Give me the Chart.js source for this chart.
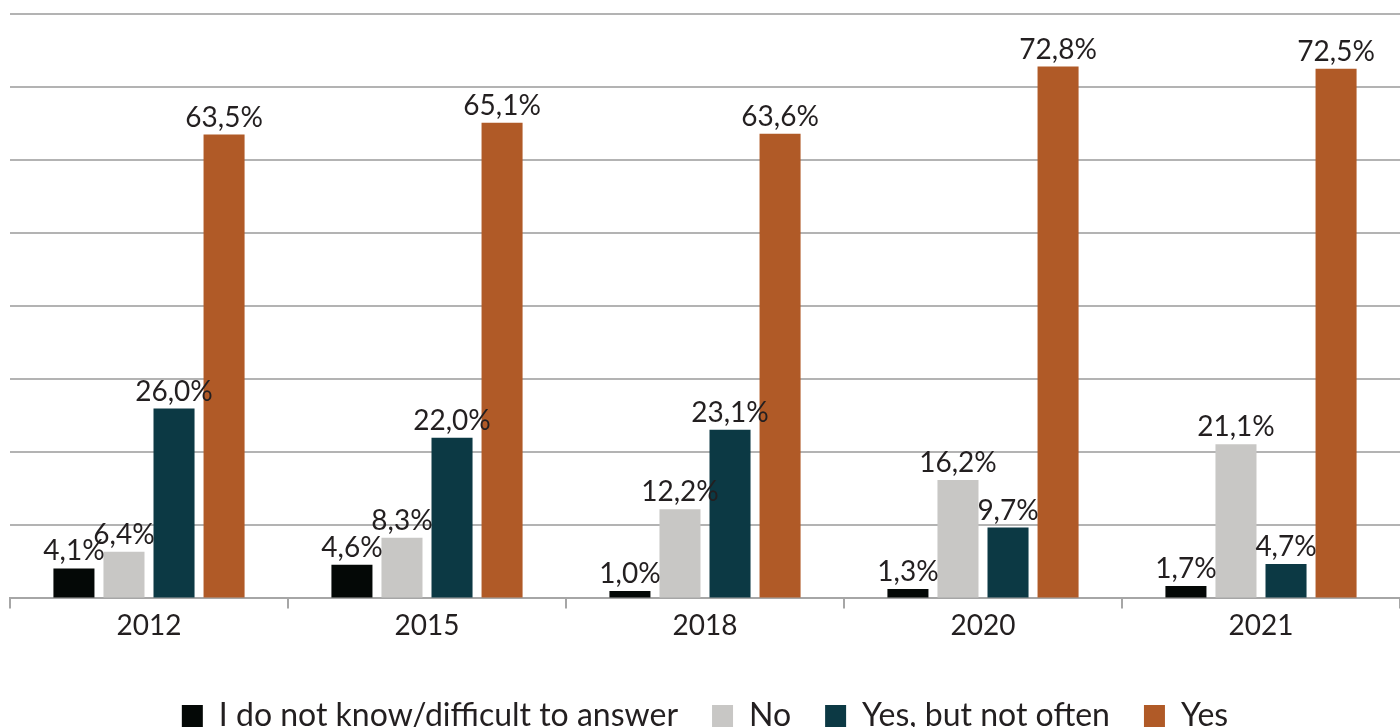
<!DOCTYPE html>
<html>
<head>
<meta charset="utf-8">
<script src="https://cdn.jsdelivr.net/npm/chart.js@4.4.1/dist/chart.umd.min.js"></script>
<style>
  html, body { margin: 0; padding: 0; background: #fff; overflow: hidden; }
  #wrap { width: 1400px; height: 742px; }
</style>
</head>
<body>
<div id="wrap"><canvas id="surveyChart"></canvas></div>
<script>
const years = ["2012", "2015", "2018", "2020", "2021"];
const dontKnow = [4.1, 4.6, 1.0, 1.3, 1.7];
const no = [6.4, 8.3, 12.2, 16.2, 21.1];
const yesNotOften = [26.0, 22.0, 23.1, 9.7, 4.7];
const yes = [63.5, 65.1, 63.6, 72.8, 72.5];

const fontFamily = "Lato, 'Noto Sans', sans-serif";
const textColor = "#231f20";

// percent labels above each bar, comma as decimal mark
const barLabels = {
  id: "barLabels",
  afterDatasetsDraw(chart) {
    const ctx = chart.ctx;
    ctx.save();
    ctx.font = "28px " + fontFamily;
    ctx.fillStyle = textColor;
    ctx.textAlign = "center";
    ctx.textBaseline = "bottom";
    chart.data.datasets.forEach((ds, i) => {
      chart.getDatasetMeta(i).data.forEach((bar, j) => {
        const txt = ds.data[j].toFixed(1).replace(".", ",") + "%";
        ctx.fillText(txt, bar.x, bar.y - 3);
      });
    });
    ctx.restore();
  }
};

const surveyChart = document.getElementById("surveyChart").getContext("2d");
new Chart(surveyChart, {
  type: "bar",
  data: {
    labels: years,
    datasets: [
      { label: "I do not know/difficult to answer", data: dontKnow, backgroundColor: "#040806" },
      { label: "No", data: no, backgroundColor: "#c8c7c5" },
      { label: "Yes, but not often", data: yesNotOften, backgroundColor: "#0c3944" },
      { label: "Yes", data: yes, backgroundColor: "#b05a27" },
    ],
  },
  options: {
    responsive: true,
    maintainAspectRatio: false,
    animation: false,
    layout: { padding: { top: 14, left: 10, right: 0, bottom: 0 } },
    datasets: {
      bar: { categoryPercentage: 0.72, barPercentage: 0.82 }
    },
    scales: {
      x: {
        grid: {
          drawOnChartArea: false,
          drawTicks: true,
          tickLength: 10,
          color: "#a6a6a6",
          lineWidth: 2,
        },
        border: { color: "#a6a6a6", width: 2 },
        ticks: {
          color: textColor,
          font: { family: fontFamily, size: 28 },
          padding: 1,
        },
        afterFit: (scale) => { scale.height += 22; },
      },
      y: {
        min: 0,
        max: 80,
        ticks: { display: false, stepSize: 10 },
        grid: { color: "#b3b3b3", lineWidth: 2, drawTicks: false },
        border: { display: false },
      },
    },
    plugins: {
      legend: {
        display: true,
        position: "bottom",
        labels: {
          color: textColor,
          font: { family: fontFamily, size: 32 },
          boxWidth: 21,
          boxHeight: 22,
          padding: 34,
        },
      },
      tooltip: { enabled: false },
    },
  },
  plugins: [barLabels],
});
</script>
</body>
</html>
